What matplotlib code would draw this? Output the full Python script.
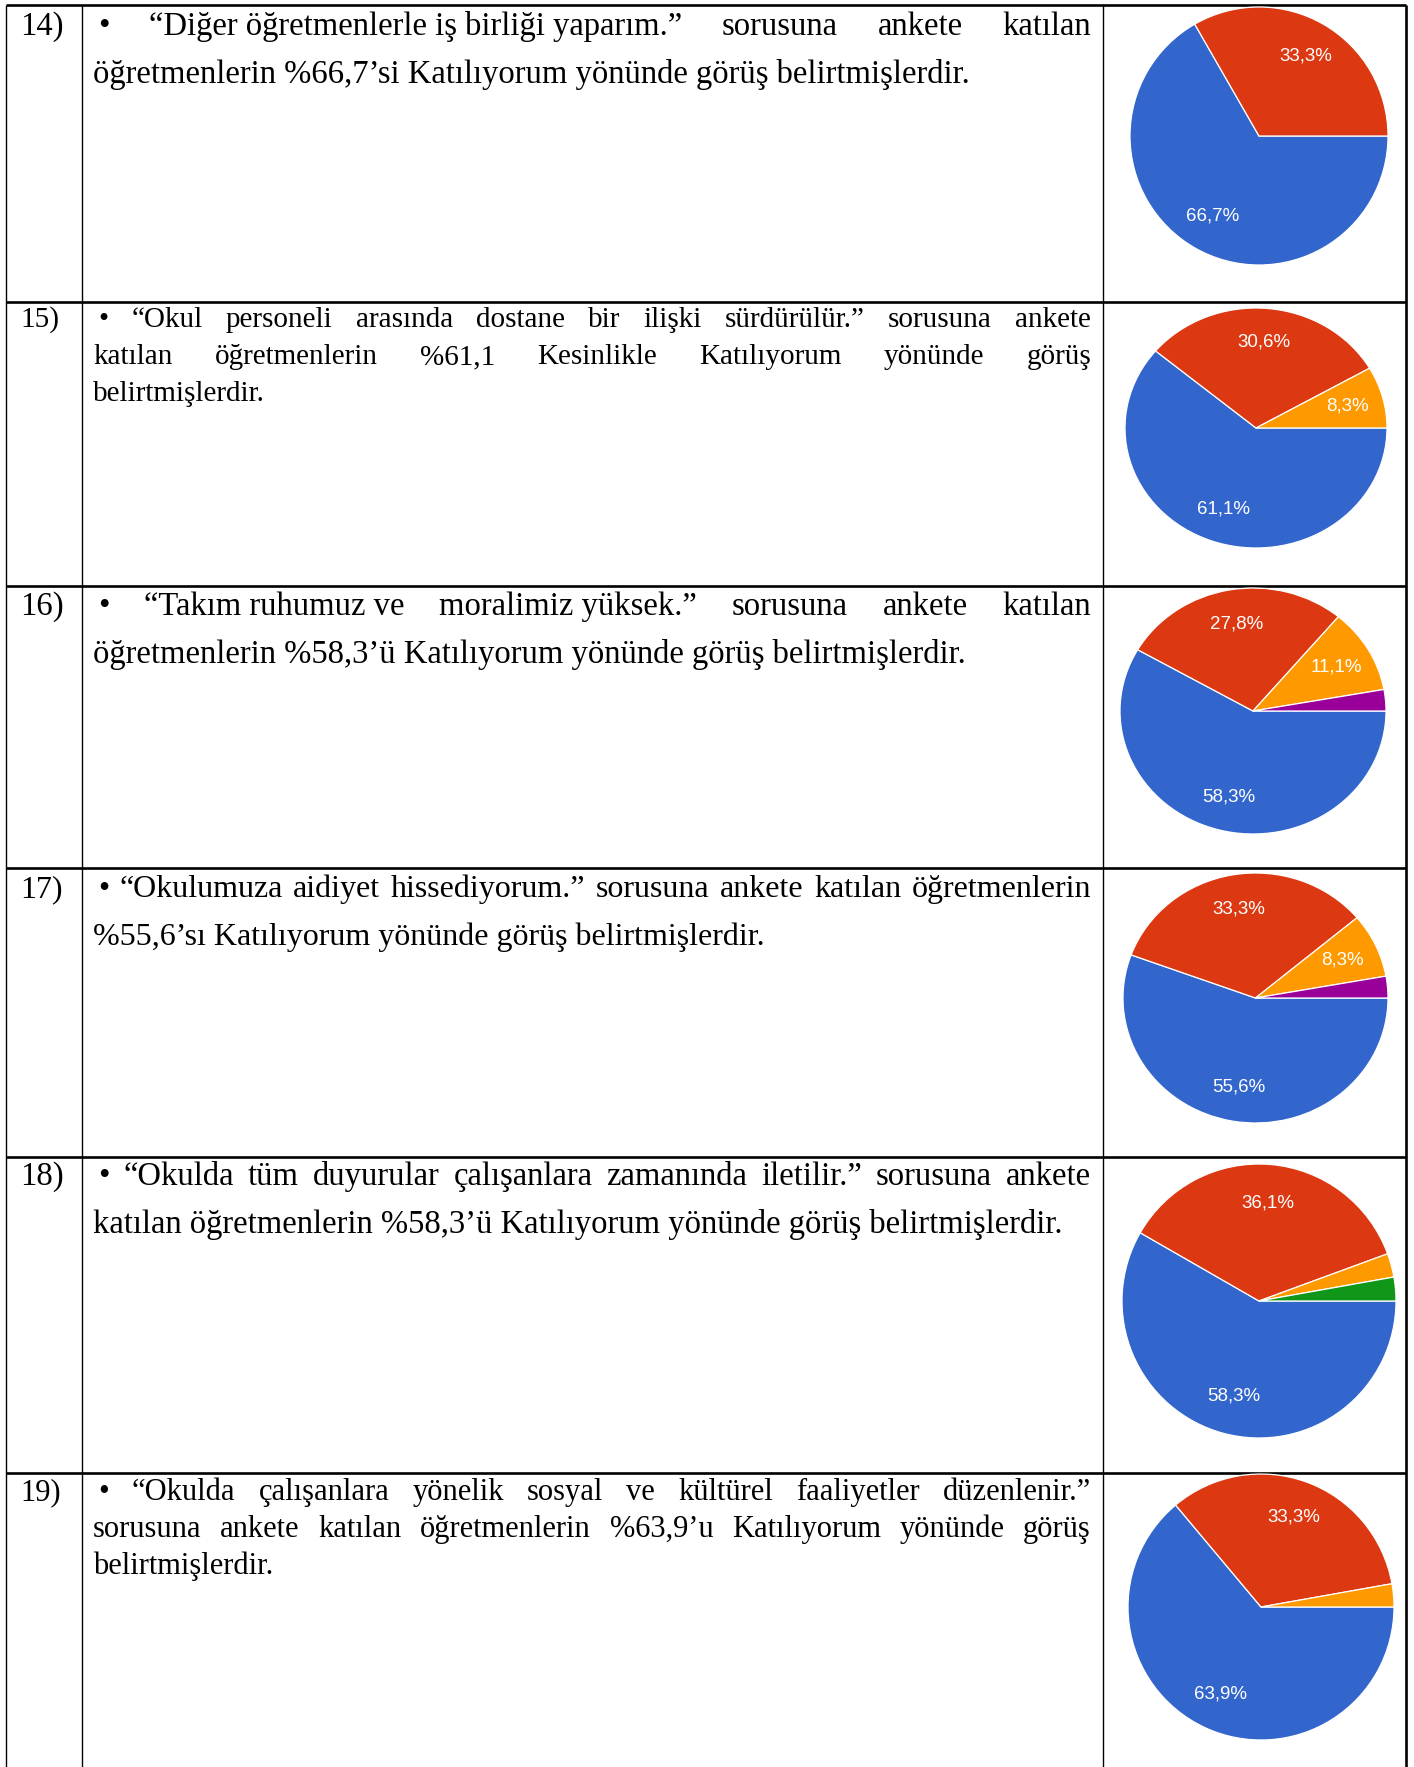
import matplotlib
matplotlib.use("Agg")
import matplotlib.pyplot as plt

# ---- data -------------------------------------------------------------
question_numbers = ["14)", "15)", "16)", "17)", "18)", "19)"]

# each line: ("j", [tokens]) = justified line, ("l", text) = left aligned
question_lines = [
    [("j", ["•", "“Diğer öğretmenlerle iş birliği yaparım.”", "sorusuna", "ankete", "katılan"]),
     ("l", "öğretmenlerin %66,7’si Katılıyorum yönünde görüş belirtmişlerdir.")],
    [("j", ["•", "“Okul", "personeli", "arasında", "dostane", "bir", "ilişki", "sürdürülür.”",
            "sorusuna", "ankete"]),
     ("j", ["katılan", "öğretmenlerin", "%61,1", "Kesinlikle", "Katılıyorum", "yönünde", "görüş"]),
     ("l", "belirtmişlerdir.")],
    [("j", ["•", "“Takım ruhumuz ve", "moralimiz yüksek.”", "sorusuna", "ankete", "katılan"]),
     ("l", "öğretmenlerin %58,3’ü Katılıyorum yönünde görüş belirtmişlerdir.")],
    [("j", ["•", "“Okulumuza", "aidiyet", "hissediyorum.”", "sorusuna", "ankete", "katılan",
            "öğretmenlerin"]),
     ("l", "%55,6’sı Katılıyorum yönünde görüş belirtmişlerdir.")],
    [("j", ["•", "“Okulda", "tüm", "duyurular", "çalışanlara", "zamanında", "iletilir.”",
            "sorusuna", "ankete"]),
     ("l", "katılan öğretmenlerin %58,3’ü Katılıyorum yönünde görüş belirtmişlerdir.")],
    [("j", ["•", "“Okulda", "çalışanlara", "yönelik", "sosyal", "ve", "kültürel", "faaliyetler",
            "düzenlenir.”"]),
     ("j", ["sorusuna", "ankete", "katılan", "öğretmenlerin", "%63,9’u", "Katılıyorum",
            "yönünde", "görüş"]),
     ("l", "belirtmişlerdir.")],
]

share_blue = [66.7, 61.1, 58.3, 55.6, 58.3, 63.9]
share_red = [33.3, 30.6, 27.8, 33.3, 36.1, 33.3]
share_orange = [0.0, 8.3, 11.1, 8.3, 2.8, 2.8]
share_green = [0.0, 0.0, 0.0, 0.0, 2.8, 0.0]
share_purple = [0.0, 0.0, 2.8, 2.8, 0.0, 0.0]

slice_colors = ["#3366CC", "#DC3912", "#FF9900", "#109618", "#990099"]

# ---- layout (pixels) --------------------------------------------------
W, H = 1414, 1767
row_tops = [5, 302, 586, 868, 1157, 1473]
col_x = [6, 82, 1103, 1406]
text_x0, text_x1 = 93, 1091
# per row: font size, first baseline offset, line spacing
row_fonts = [(23.5, 30, 48), (21.0, 25, 37), (23.5, 29, 48),
             (23.0, 29, 48), (23.5, 28, 48), (22.0, 27, 37)]
# pie centre x, centre y, radius x, radius y
pie_boxes = [(1259, 136, 129, 129), (1256, 428, 131, 120), (1253, 711, 133, 123),
             (1255.5, 998, 132.5, 125), (1259, 1301, 137, 137), (1261, 1607, 133, 133)]

fig = plt.figure(figsize=(W / 100, H / 100), dpi=100)
ax = fig.add_axes([0, 0, 1, 1])
ax.set_xlim(0, W)
ax.set_ylim(H, 0)
ax.axis("off")
renderer = fig.canvas.get_renderer()

# table grid
for y in row_tops:
    ax.plot([col_x[0], col_x[-1]], [y, y], color="black", lw=1.9, solid_capstyle="butt")
for i, x in enumerate(col_x):
    lw = 1.9 if i == len(col_x) - 1 else 1.0
    ax.plot([x, x], [row_tops[0], H], color="black", lw=lw, solid_capstyle="butt")


def draw_justified(tokens, y, style):
    texts = [ax.text(0, y, t, **style) for t in tokens]
    widths = [t.get_window_extent(renderer).width for t in texts]
    x_start = text_x0 + 5 if tokens[0] == "•" else text_x0
    gap = (text_x1 - x_start - sum(widths)) / (len(tokens) - 1)
    x = x_start
    for t, w in zip(texts, widths):
        t.set_x(x)
        x += w + gap


for r, top in enumerate(row_tops):
    size, offset, spacing = row_fonts[r]
    style = dict(family="Liberation Serif", size=size, color="black", va="baseline")
    y = top + offset
    ax.text(20, y, question_numbers[r], **style)
    for kind, content in question_lines[r]:
        if kind == "j":
            draw_justified(content, y, style)
        else:
            ax.text(text_x0, y, content, **style)
        y += spacing


def pct_label(p):
    return f"{p:.1f}".replace(".", ",") + "%" if p >= 5 else ""


for r, (cx, cy, rx, ry) in enumerate(pie_boxes):
    vals = [share_blue[r], share_red[r], share_orange[r], share_green[r], share_purple[r]]
    keep = [i for i, v in enumerate(vals) if v > 0]
    pax = fig.add_axes([(cx - rx) / W, 1 - (cy + ry) / H, 2 * rx / W, 2 * ry / H])
    pax.pie([vals[i] for i in keep], colors=[slice_colors[i] for i in keep],
            startangle=0, counterclock=False, autopct=pct_label, pctdistance=0.72,
            wedgeprops=dict(edgecolor="white", linewidth=0.9),
            textprops=dict(color="white", family="Liberation Sans", size=13.5))
    pax.set_aspect("auto")
    pax.set_xlim(-1, 1)
    pax.set_ylim(-1, 1)
    pax.axis("off")

fig.savefig("out.png", dpi=100, facecolor="white")
